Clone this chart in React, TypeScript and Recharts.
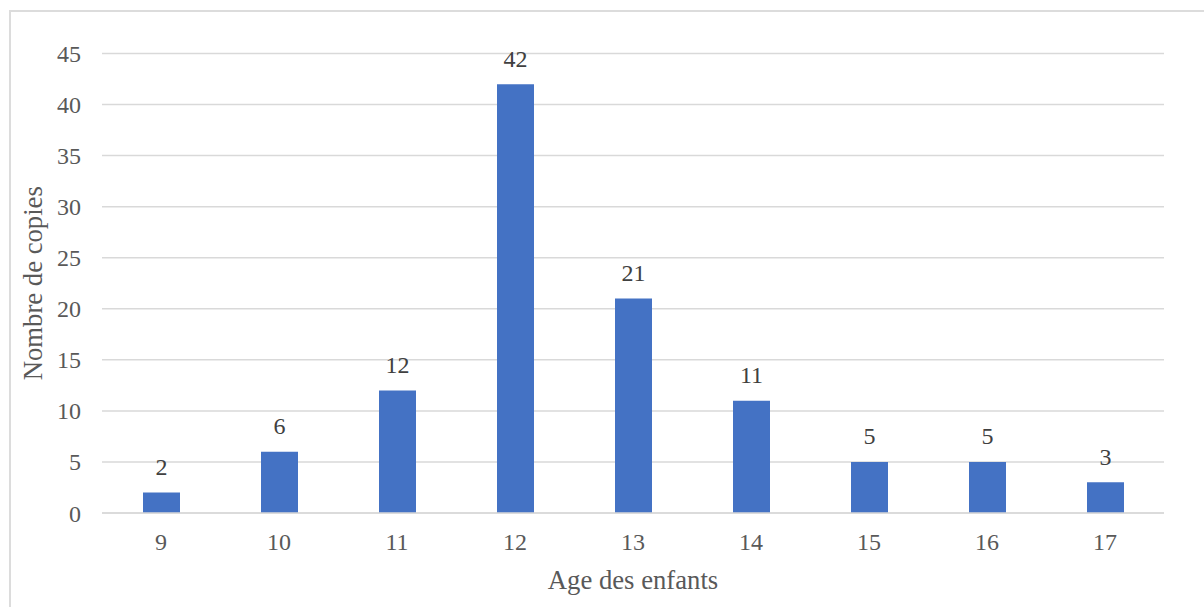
import React from "react";
import { BarChart, Bar, XAxis, YAxis, CartesianGrid, LabelList } from "recharts";

const ages = ["9", "10", "11", "12", "13", "14", "15", "16", "17"];
const copies = [2, 6, 12, 42, 21, 11, 5, 5, 3];
const yTicks = [0, 5, 10, 15, 20, 25, 30, 35, 40, 45];

const data = ages.map((a, i) => ({ age: a, value: copies[i] }));

const FONT = "'Liberation Serif', 'Times New Roman', serif";
const textStyle = { fontFamily: FONT, fontSize: 24 };

const XTick = (props: any) => {
  const { x, y, payload } = props;
  return (
    <text x={x} y={y + 35} textAnchor="middle" fill="#595959" style={textStyle}>
      {payload.value}
    </text>
  );
};

const YTick = (props: any) => {
  const { x, y, payload } = props;
  return (
    <text x={x - 19} y={y + 8.5} textAnchor="end" fill="#595959" style={textStyle}>
      {payload.value}
    </text>
  );
};

const BarLabel = (props: any) => {
  const { x, y, width, value } = props;
  return (
    <text x={x + width / 2} y={y - 17.5} textAnchor="middle" fill="#404040" style={textStyle}>
      {value}
    </text>
  );
};

export default function App() {
  return (
    <div style={{ position: "relative", width: 1204, height: 607, overflow: "hidden", background: "#fff" }}>
      <style>{"body{margin:0;overflow:hidden;}"}</style>
      <div
        style={{
          position: "absolute",
          left: 9,
          top: 10,
          width: 1250,
          height: 700,
          border: "2px solid #dcdcdc",
          boxSizing: "border-box",
        }}
      />
      <BarChart
        width={1204}
        height={607}
        data={data}
        margin={{ top: 53.5, right: 40, left: 0, bottom: 64 }}
        barCategoryGap={0}
        style={{ position: "absolute", left: 0, top: 0, fontFamily: FONT }}
      >
        <CartesianGrid vertical={false} stroke="#d9d9d9" strokeWidth={1.5} />
        <XAxis
          dataKey="age"
          height={30}
          tickLine={false}
          tickSize={0}
          axisLine={{ stroke: "#d9d9d9", strokeWidth: 1.5 }}
          tick={<XTick />}
          label={{
            value: "Age des enfants",
            position: "insideBottom",
            offset: -46,
            fill: "#595959",
            fontSize: 26.7,
            fontFamily: FONT,
          }}
        />
        <YAxis
          width={102}
          domain={[0, 45]}
          ticks={yTicks}
          interval={0}
          axisLine={false}
          tickLine={false}
          tickSize={0}
          tick={<YTick />}
          label={{
            value: "Nombre de copies",
            angle: -90,
            position: "insideLeft",
            offset: 0,
            dx: 33,
            fill: "#595959",
            fontSize: 26.7,
            fontFamily: FONT,
            style: { textAnchor: "middle" },
          }}
        />
        <Bar dataKey="value" fill="#4472C4" barSize={37} isAnimationActive={false}>
          <LabelList dataKey="value" content={<BarLabel />} />
        </Bar>
      </BarChart>
    </div>
  );
}
